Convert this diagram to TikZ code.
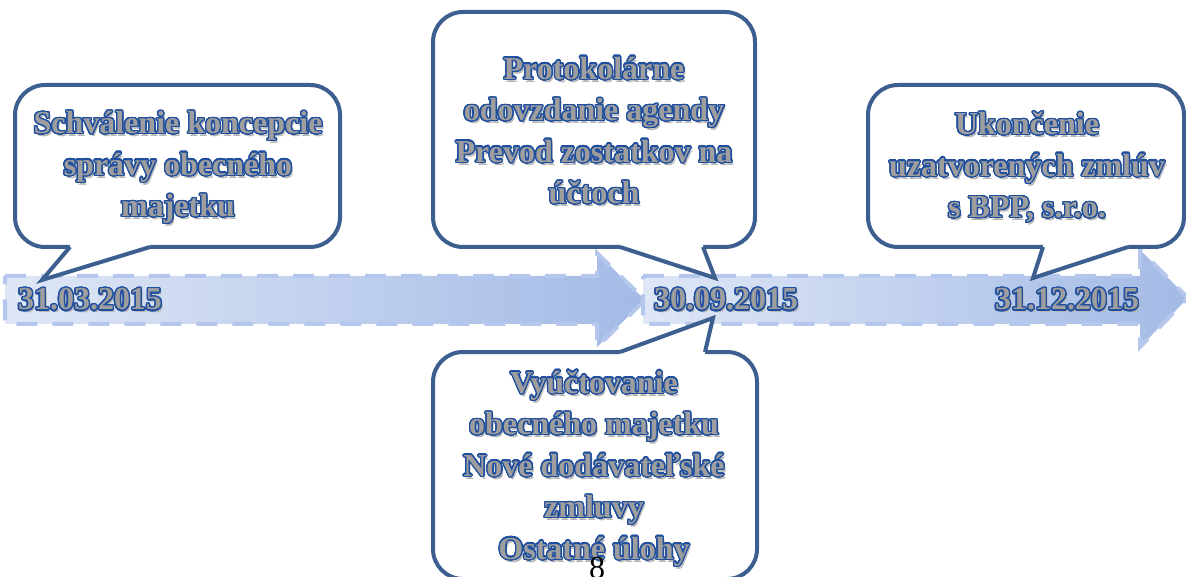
\documentclass[tikz,border=0pt]{standalone}
\usepackage{fontspec}
\setmainfont{Liberation Serif}
\usepackage[copies]{contour}
\contourlength{1.3pt}
\contournumber{28}
\usetikzlibrary{calc}
\definecolor{cbord}{HTML}{3D5F8F}
\definecolor{outl}{HTML}{1F4F9E}
\definecolor{tfill}{HTML}{9E9E9E}
\definecolor{arL}{HTML}{DFE7F6}
\definecolor{arR}{HTML}{A3BAE6}
\definecolor{ardash}{HTML}{B5C7EC}
\newcommand\bigf{\fontsize{32}{41.5}\selectfont\bfseries}
\newcommand\plainT[1]{#1}
\newcommand\contT[1]{\contour{outl}{#1}}
\let\T\plainT
\newcommand\labl[3]{%
  \node[shd] (#1s) at ($(#2)+(2,2.5)$) {#3};
  \node[mt] (#1) at (#2) {#3};}
\begin{document}
\begin{tikzpicture}[x=1pt,y=-1pt,
  tstyle/.style={align=center, inner sep=0pt},
  shd/.style={tstyle, text=black!28, font={\bigf\let\T\plainT}},
  mt/.style={tstyle, text=tfill, font={\bigf\let\T\contT}},
  arrowbody/.style={left color=arL, right color=arR, draw=ardash, line width=4pt, dash pattern=on 21pt off 15pt},
  cbox/.style={draw=cbord, fill=white, line width=4pt, rounded corners=30pt},
  cline/.style={draw=cbord, line width=4pt, miter limit=4},
]
\useasboundingbox (0,0) rectangle (1186,577);
\clip (0,0) rectangle (1186,577);

% timeline arrows
\path[arrowbody] (5,276) -- (597,276) -- (597,253) -- (645,300) -- (597,347) -- (597,324) -- (5,324) -- cycle;
\path[arrowbody] (643,276) -- (1140,276) -- (1140,250) -- (1188,298) -- (1140,347) -- (1140,324) -- (643,324) -- cycle;

% callout 1
\path[cbox] (15,85) rectangle (340,247);
\fill[white] (70,243) -- (150,243) -- (150,247) -- (42,280) -- (70,247) -- cycle;
\draw[cline] (70,247) -- (42,280) -- (150,247);

% callout 2
\path[cbox] (433,12) rectangle (755,247);
\fill[white] (620,243) -- (703,243) -- (703,247) -- (715,278) -- (620,247) -- cycle;
\draw[cline] (620,247) -- (715,278) -- (703,247);

% callout 3
\path[cbox] (433,352) rectangle (757,579);
\fill[white] (620,356) -- (620,352) -- (713,318) -- (705,352) -- (705,356) -- cycle;
\draw[cline] (620,352) -- (713,318) -- (705,352);

% callout 4
\path[cbox] (868,85) rectangle (1184,247);
\fill[white] (1043,243) -- (1128,243) -- (1128,247) -- (1033,278) -- (1043,247) -- cycle;
\draw[cline] (1043,247) -- (1033,278) -- (1128,247);

% texts
\labl{t1}{178,168}{\T{Schválenie koncepcie}\\\T{správy obecného}\\\T{majetku}}
\labl{t2}{594,131}{\T{Protokolárne}\\\T{odovzdanie agendy}\\\T{Prevod zostatkov na}\\\T{účtoch}}
\labl{t3}{594,469}{\T{Vyúčtovanie}\\\T{obecného majetku}\\\T{Nové dodávateľské}\\\T{zmluvy}\\\T{Ostatné úlohy}}
\labl{t4}{1027,168}{\T{Ukončenie}\\\T{uzatvorených zmlúv}\\\T{s BPP, s.r.o.}}
\labl{d1}{90,300}{\T{31.03.2015}}
\labl{d2}{726,300}{\T{30.09.2015}}
\labl{d3}{1067,300}{\T{31.12.2015}}

\node[font=\fontsize{32}{34}\selectfont, inner sep=0pt, anchor=base] (pg) at (597,578) {8};
\end{tikzpicture}
\end{document}
